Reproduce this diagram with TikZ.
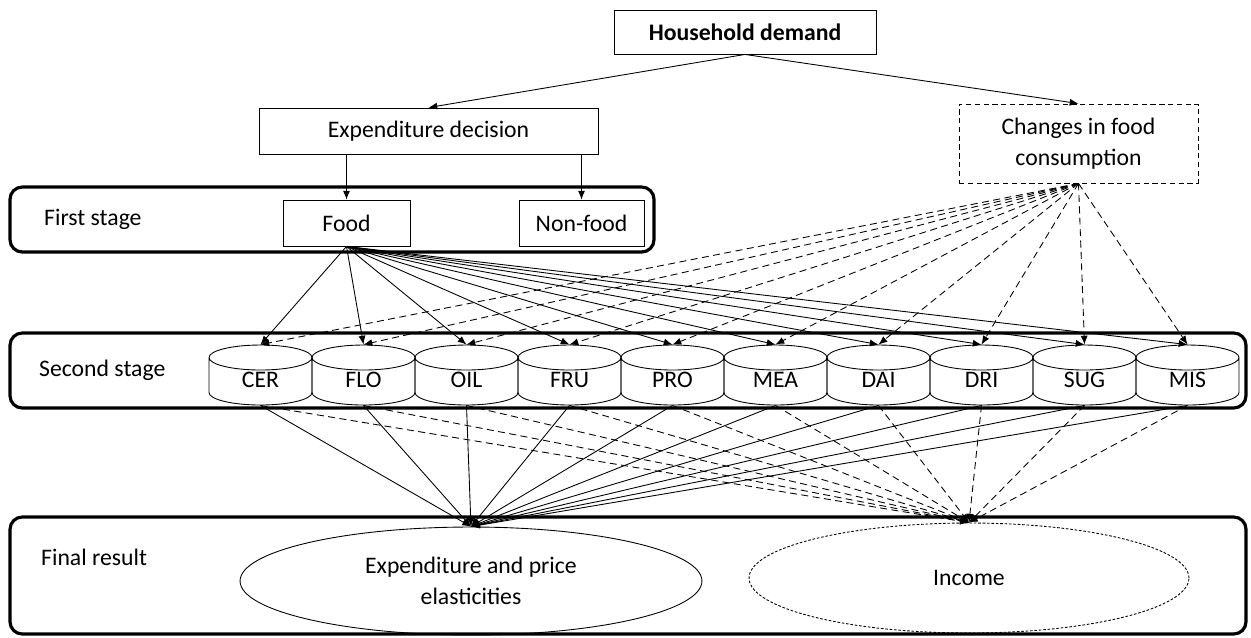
\documentclass[tikz,border=0pt]{standalone}
\usepackage{fontspec}
\setmainfont{Carlito}
\usepackage{tikz}
\usetikzlibrary{arrows.meta,positioning,shapes.geometric}

\begin{document}
\begin{tikzpicture}[x=0.02cm,y=-0.02cm,>={Latex[length=5pt,width=4pt]},
  every node/.style={font=\fontsize{13.5}{18}\selectfont},
  box/.style={rectangle,draw,line width=0.5pt,inner sep=0pt,align=center},
  stagebox/.style={draw,line width=1.8pt,rounded corners=7pt},
  cyl/.style={cylinder,draw,line width=0.5pt,shape border rotate=90,aspect=0.5,minimum width=2.06cm,minimum height=1.2cm,inner sep=0pt,text width=1cm,align=center,text height=1.5ex,text depth=0pt},
  solidline/.style={->,line width=0.5pt},
  dashline/.style={->,line width=0.5pt,dash pattern=on 4pt off 2.5pt}]
  \useasboundingbox (0,0) rectangle (1251,637);
  % stage frames
  \draw[stagebox] (10,187) rectangle (654,252);
  \draw[stagebox] (10,333) rectangle (1246,408);
  \draw[stagebox] (10,517) rectangle (1246,634);
  \node[anchor=west] (first) at (38,219) {First stage};
  \node[anchor=west] (second) at (33,370) {Second stage};
  \node[anchor=west] (final) at (35,557) {Final result};
  % top levels
  \node[box,minimum width=5.24cm,minimum height=0.88cm,font=\fontsize{13.5}{18}\selectfont\bfseries] (house) at (745,32) {Household demand};
  \node[box,minimum width=6.78cm,minimum height=0.92cm] (expend) at (428.5,131) {Expenditure decision};
  \node[box,densely dashed,minimum width=4.78cm,minimum height=1.58cm] (changes) at (1078.5,143.5) {Changes in food\\consumption};
  \node[box,minimum width=2.54cm,minimum height=0.92cm] (food) at (346.5,223) {Food};
  \node[box,minimum width=2.5cm,minimum height=0.92cm] (nonfood) at (581.5,223) {Non-food};
  \draw[solidline] (house.south) -- (expend.north);
  \draw[solidline] (house.south) -- (changes.north);
  \draw[solidline] (expend.south -| food) -- (food.north);
  \draw[solidline] (expend.south -| nonfood) -- (nonfood.north);
  % final results
  \node[ellipse,draw,line width=0.5pt,align=center,minimum width=9.24cm,minimum height=2.16cm,inner sep=0pt] (elast) at (471,581) {Expenditure and price\\elasticities};
  \node[ellipse,draw,line width=0.5pt,dash pattern=on 1.5pt off 1pt,minimum width=8.8cm,minimum height=2.2cm,inner sep=0pt] (income) at (969,578) {Income};
  % food groups
  \foreach \n/\t [count=\i] in {cer/CER,flo/FLO,oil/OIL,fru/FRU,pro/PRO,mea/MEA,dai/DAI,dri/DRI,sug/SUG,mis/MIS}
    \node[cyl,anchor=shape center] (\n) at ({209+103*(\i-0.5)},375) {\t};
  \foreach \n in {cer,flo,oil,fru,pro,mea,dai,dri,sug,mis}{
    \draw[solidline] (food.south) -- (\n.north);
    \draw[dashline] (changes.south) -- (\n.north);
    \draw[solidline] (\n.south) -- (elast.north);
    \draw[dashline] (\n.south) -- (income.north);
  }
\end{tikzpicture}
\end{document}
